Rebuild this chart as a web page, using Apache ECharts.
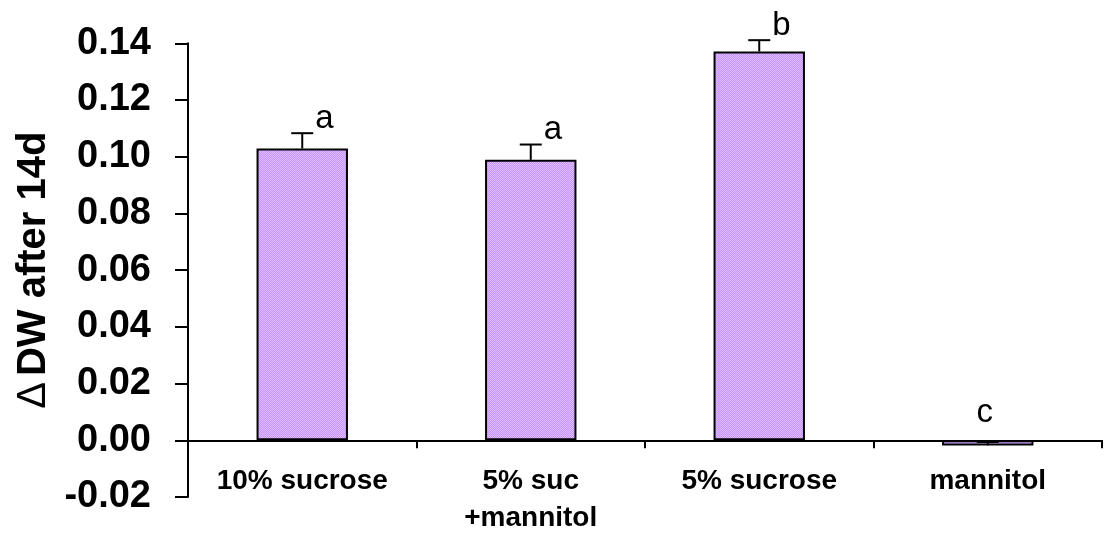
<!DOCTYPE html>
<html>
<head>
<meta charset="utf-8">
<script src="https://cdn.jsdelivr.net/npm/echarts@6/dist/echarts.min.js"></script>
<style>
  html, body { margin: 0; padding: 0; background: #fff; }
  #chart { width: 1105px; height: 538px; }
</style>
</head>
<body>
<div id="chart"></div>
<script>
// Treatments, mean dry-weight gain after 14 days, standard error and significance groups
const categories = ['10% sucrose', '5% suc\n+mannitol', '5% sucrose', 'mannitol'];
const meanDW = [0.1029, 0.0989, 0.1371, -0.0018];
const stdErr = [0.0054, 0.0054, 0.0040, 0.0012];
const groupLetters = ['a', 'a', 'b', 'c'];

// value axis range
const yMin = -0.02;
const yMax = 0.14;
const yStep = 0.02;

const FONT = '"Liberation Sans", Arial, Helvetica, sans-serif';

// fine dotted lavender fill
function dottedFill() {
  const c = document.createElement('canvas');
  c.width = 2; c.height = 2;
  const g = c.getContext('2d');
  g.fillStyle = '#C894FF'; g.fillRect(0, 0, 2, 2);
  g.fillStyle = '#DDBBFF'; g.fillRect(0, 0, 1, 1); g.fillRect(1, 1, 1, 1);
  return { image: c, repeat: 'repeat' };
}

function renderErrorBar(params, api) {
  const i = api.value(0);
  const v = api.value(1);
  const e = api.value(2);
  const base = api.coord([i, v]);
  const top = api.coord([i, v + e]);
  const half = 11;
  const centred = v + e <= 0.002;
  return {
    type: 'group',
    children: [
      { type: 'line', shape: { x1: base[0], y1: base[1], x2: top[0], y2: top[1] },
        style: { stroke: '#000', lineWidth: 2 } },
      { type: 'line', shape: { x1: top[0] - half, y1: top[1], x2: top[0] + half, y2: top[1] },
        style: { stroke: '#000', lineWidth: 2 } },
      { type: 'text',
        x: centred ? top[0] - 3 : top[0] + half + 2,
        y: centred ? top[1] - 13 : top[1] + 2,
        style: { text: groupLetters[i], fill: '#000', fontSize: 33, fontFamily: FONT,
                 align: centred ? 'center' : 'left', verticalAlign: 'bottom' } }
    ]
  };
}

const chart = echarts.init(document.getElementById('chart'), null, { renderer: 'canvas' });
chart.setOption({
  animation: false,
  backgroundColor: '#fff',
  grid: { left: 188, right: 3, top: 43.3, bottom: 41, containLabel: false, outerBoundsMode: 'none' },
  xAxis: {
    type: 'category',
    data: categories,
    axisLine: { onZero: true, lineStyle: { color: '#000', width: 2 } },
    axisTick: { show: true, interval: 0, length: 8, lineStyle: { color: '#000', width: 2 } },
    axisLabel: { interval: 0, margin: -34, color: '#000', fontSize: 28, fontWeight: 'bold',
                 fontFamily: FONT, lineHeight: 37 },
    splitLine: { show: false }
  },
  yAxis: {
    type: 'value',
    min: yMin, max: yMax, interval: yStep,
    name: '{d|Δ}DW after 14d',
    nameLocation: 'middle',
    nameGap: 131,
    nameTextStyle: {
      color: '#000', fontSize: 40, fontWeight: 'bold', fontFamily: FONT,
      rich: { d: { fontSize: 40, fontWeight: 'normal', fontFamily: FONT, color: '#000', padding: [0, 6, 0, 0] } }
    },
    axisLine: { show: true, lineStyle: { color: '#000', width: 2 } },
    axisTick: { show: true, length: 13, lineStyle: { color: '#000', width: 2 } },
    axisLabel: { margin: 37, color: '#000', fontSize: 38, fontWeight: 'bold', fontFamily: FONT,
                 formatter: v => v.toFixed(2) },
    splitLine: { show: false }
  },
  series: [
    {
      type: 'bar',
      data: meanDW,
      barWidth: '40%',
      itemStyle: { color: dottedFill(), borderColor: '#000', borderWidth: 2 }
    },
    {
      type: 'custom',
      renderItem: renderErrorBar,
      data: meanDW.map((v, i) => [i, v, stdErr[i]]),
      z: 5
    }
  ]
});
</script>
</body>
</html>
